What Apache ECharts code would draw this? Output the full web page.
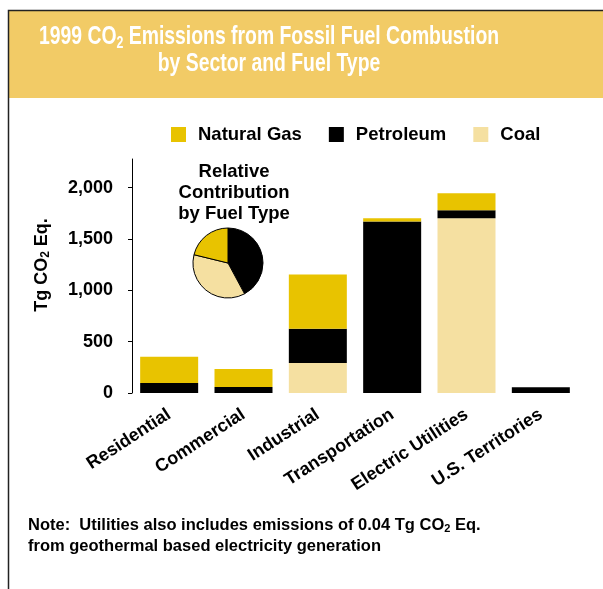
<!DOCTYPE html>
<html>
<head>
<meta charset="utf-8">
<script src="https://cdn.jsdelivr.net/npm/echarts@6/dist/echarts.min.js"></script>
<style>
  html, body { margin: 0; padding: 0; background: #fff; }
  #chart { width: 603px; height: 589px; }
</style>
</head>
<body>
<div id="chart"></div>
<script>
// sectors on the x axis
var categories = ['Residential', 'Commercial', 'Industrial', 'Transportation', 'Electric Utilities', 'U.S. Territories'];
// Tg CO2 Eq. per fuel, stacked coal -> petroleum -> natural gas
var coal = [0, 0, 293, 0, 1702, 0];
var petroleum = [98, 59, 333, 1672, 78, 55];
var naturalGas = [254, 176, 528, 30, 166, 0];
var yTicks = [0, 500, 1000, 1500, 2000];

var gasColor = '#e8c300';
var petroColor = '#000000';
var coalColor = '#f5e0a1';
var bandColor = '#f2cb66';
var font = '"Liberation Sans", Arial, sans-serif';

function sum(arr) {
    return arr.reduce(function (a, b) { return a + b; }, 0);
}

var chart = echarts.init(document.getElementById('chart'));

var option = {
    backgroundColor: '#fff',
    animation: false,
    graphic: [
        // header band + frame
        {
            type: 'rect', z: -10,
            shape: { x: 8, y: 10, width: 600, height: 88 },
            style: { fill: bandColor, stroke: null }
        },
        {
            type: 'polyline', z: -9,
            shape: { points: [[8.5, 589], [8.5, 10.5], [603, 10.5]] },
            style: { stroke: '#222', lineWidth: 1.5, fill: null }
        },
        // condensed header title (no narrow font installed, so squeeze it)
        {
            type: 'text', x: 269, y: 24, scaleX: 0.775,
            style: {
                text: '1999 CO{sub|2} Emissions from Fossil Fuel Combustion\nby Sector and Fuel Type',
                align: 'center', verticalAlign: 'top',
                fontFamily: font, fontWeight: 'bold', fontSize: 25, lineHeight: 27, fill: '#fff',
                rich: {
                    sub: { fontFamily: font, fontWeight: 'bold', fontSize: 16, fill: '#fff', padding: [12, 0, 0, 0] }
                }
            }
        }
    ],
    title: [
        {
            text: 'Relative\nContribution\nby Fuel Type',
            left: 234, top: 161, textAlign: 'center', padding: 0,
            textStyle: { fontFamily: font, fontWeight: 'bold', fontSize: 18.5, color: '#000', lineHeight: 21 }
        },
        {
            text: 'Note:  Utilities also includes emissions of 0.04 Tg CO{sub|2} Eq.\nfrom geothermal based electricity generation',
            left: 28, top: 515, padding: 0,
            textStyle: {
                fontFamily: font, fontWeight: 'bold', fontSize: 16.5, color: '#000', lineHeight: 21,
                rich: {
                    sub: { fontFamily: font, fontWeight: 'bold', fontSize: 11, color: '#000', padding: [6, 0, 0, 0] }
                }
            }
        }
    ],
    legend: {
        data: ['Natural Gas', 'Petroleum', 'Coal'],
        left: 171, top: 125, padding: 0,
        icon: 'rect', itemWidth: 15, itemHeight: 15, itemGap: 27,
        selectedMode: false,
        textStyle: { fontFamily: font, fontWeight: 'bold', fontSize: 18.5, color: '#000', padding: [0, 0, 0, 7] }
    },
    grid: { left: 132, right: 25, top: 159, bottom: 196 },
    xAxis: {
        type: 'category',
        data: categories,
        axisLine: { show: false },
        axisTick: { show: false },
        axisLabel: {
            interval: 0, rotate: 33, margin: 20,
            fontFamily: font, fontWeight: 'bold', fontSize: 18, color: '#000'
        }
    },
    yAxis: {
        type: 'value',
        min: 0, max: 2280,
        name: 'Tg CO{sub|2} Eq.',
        nameLocation: 'middle', nameGap: 80,
        nameTextStyle: {
            fontFamily: font, fontWeight: 'bold', fontSize: 18, color: '#000',
            padding: [0, 0, 0, 22],
            rich: {
                sub: { fontFamily: font, fontWeight: 'bold', fontSize: 12, color: '#000', padding: [7, 0, 0, 0] }
            }
        },
        splitLine: { show: false },
        axisLine: { show: true, lineStyle: { color: '#000', width: 1 } },
        axisTick: { show: true, length: 4, customValues: yTicks, lineStyle: { color: '#000' } },
        axisLabel: {
            customValues: yTicks, margin: 19,
            fontFamily: font, fontWeight: 'bold', fontSize: 18, color: '#000',
            formatter: function (v) { return v.toLocaleString('en-US'); }
        }
    },
    series: [
        { name: 'Coal', type: 'bar', stack: 'fuel', barWidth: 58, data: coal, itemStyle: { color: coalColor } },
        { name: 'Petroleum', type: 'bar', stack: 'fuel', barWidth: 58, data: petroleum, itemStyle: { color: petroColor } },
        { name: 'Natural Gas', type: 'bar', stack: 'fuel', barWidth: 58, data: naturalGas, itemStyle: { color: gasColor } },
        {
            type: 'pie',
            center: [228, 263], radius: 35,
            startAngle: 90, clockwise: true,
            label: { show: false }, labelLine: { show: false },
            silent: true,
            itemStyle: { borderColor: '#000', borderWidth: 1 },
            data: [
                { name: 'Petroleum', value: sum(petroleum), itemStyle: { color: petroColor } },
                { name: 'Coal', value: sum(coal), itemStyle: { color: coalColor } },
                { name: 'Natural Gas', value: sum(naturalGas), itemStyle: { color: gasColor } }
            ]
        }
    ]
};

chart.setOption(option);
</script>
</body>
</html>
